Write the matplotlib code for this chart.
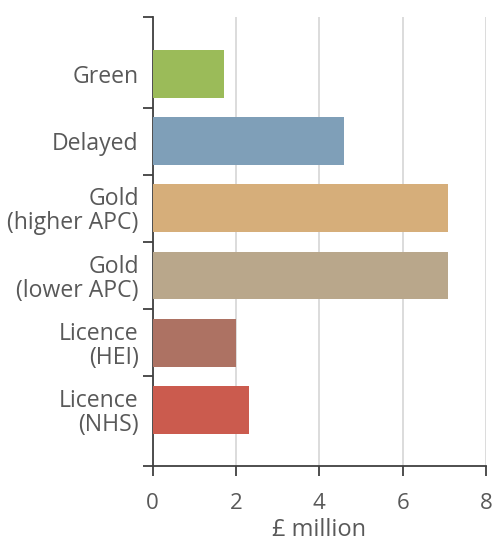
import matplotlib
matplotlib.use("Agg")
import matplotlib.pyplot as plt
import numpy as np

categories = ["Green", "Delayed", "Gold\n(higher APC)", "Gold\n(lower APC)", "Licence\n(HEI)", "Licence\n(NHS)"]
values = [1.70, 4.60, 7.10, 7.10, 2.00, 2.30]
colors = ["#9BBB59", "#7F9FB8", "#D6AE7A", "#B9A78B", "#AD7263", "#CB5B4E"]
xticks = [0, 2, 4, 6, 8]

plt.rcParams['font.family'] = ['Open Sans', 'DejaVu Sans']

fig = plt.figure(figsize=(4.95, 5.42), dpi=100)
ax = fig.add_axes([0.3085, 0.1393, 0.9818 - 0.3085, 0.968 - 0.1393])

y = np.arange(len(categories))
ax.barh(y, values, height=0.714, color=colors, zorder=3)

ax.set_xlim(0, 8)
ylo, yhi = -0.844, len(categories) - 1 + 0.844
ax.set_ylim(yhi, ylo)

ax.set_xticks(xticks)
ax.set_xticklabels([str(t) for t in xticks])
ax.grid(axis='x', color='#D9D9D9', linewidth=1.3, zorder=0)
ax.set_axisbelow(True)

# major ticks at category boundaries (no labels), labels at minor positions
bounds = [ylo] + [i + 0.5 for i in range(len(categories) - 1)] + [yhi]
ax.set_yticks(bounds)
ax.set_yticklabels([])
ax.set_yticks(y, minor=True)
ax.set_yticklabels(categories, minor=True, fontsize=16.6, color='#595959',
                   linespacing=1.0)
ax.tick_params(axis='y', which='minor', length=0, pad=10)
ax.tick_params(axis='y', which='major', length=7.5, width=1.3, color='#404040')
ax.tick_params(axis='x', length=7, width=1.3, color='#404040',
               labelsize=16, labelcolor='#595959', pad=12)

for s in ['top', 'right']:
    ax.spines[s].set_visible(False)
for s in ['left', 'bottom']:
    ax.spines[s].set_color('#404040')
    ax.spines[s].set_linewidth(1.3)

ax.set_xlabel("£ million", fontsize=17, color='#595959', labelpad=3)

fig.savefig("out.png", dpi=100)
